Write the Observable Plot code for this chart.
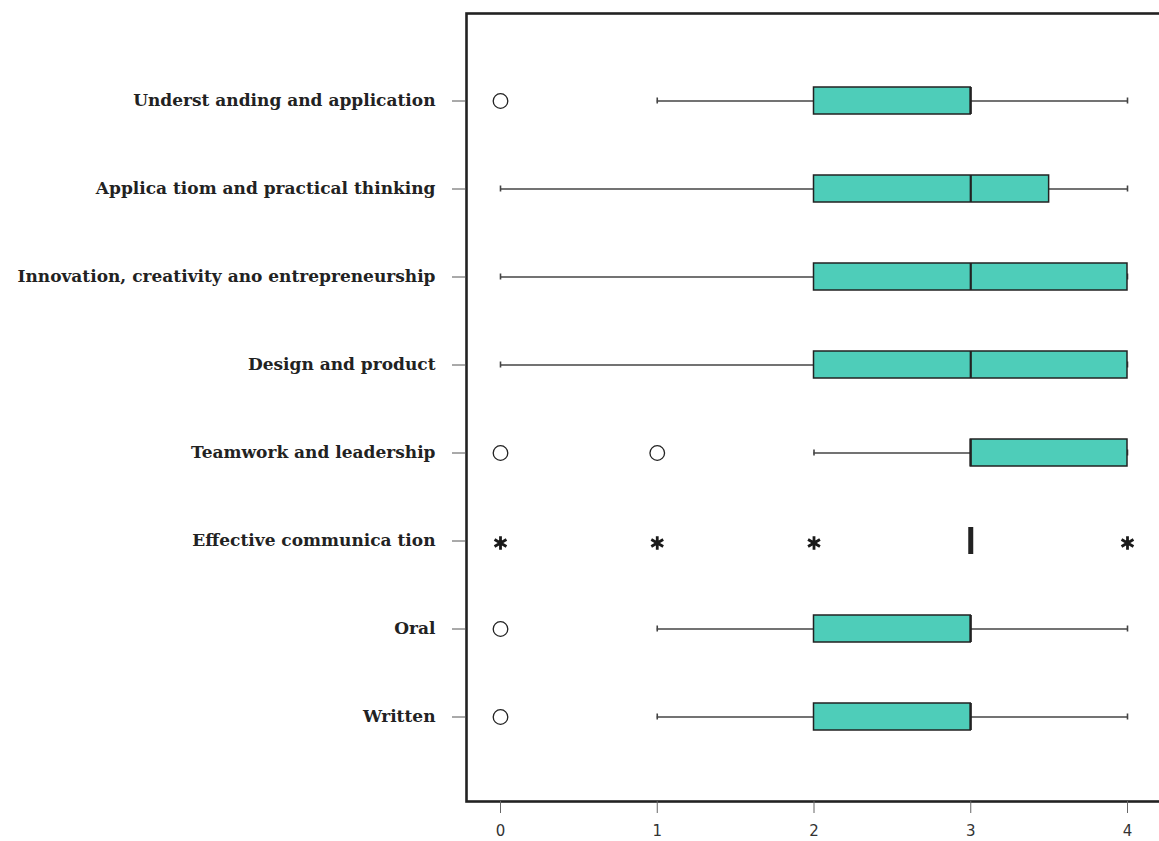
<!DOCTYPE html>
<html>
<head>
<meta charset="utf-8">
<script src="https://cdn.jsdelivr.net/npm/d3@7"></script>
<script src="https://cdn.jsdelivr.net/npm/@observablehq/plot@0.6"></script>
<style>
  html, body { margin: 0; padding: 0; background: #fff; overflow: hidden; }
  #chart { width: 1159px; height: 841px; overflow: hidden; position: relative; }
  #chart svg { display: block; overflow: hidden !important; }
</style>
</head>
<body>
<div id="chart"></div>
<script>
const categories = [
  "Underst anding and application",
  "Applica tiom and practical thinking",
  "Innovation, creativity ano entrepreneurship",
  "Design and product",
  "Teamwork and leadership",
  "Effective communica tion",
  "Oral",
  "Written"
];
const whiskerLow  = [1, 0, 0, 0, 2, 3, 1, 1];
const q1          = [2, 2, 2, 2, 3, 3, 2, 2];
const median      = [3, 3, 3, 3, 3, 3, 3, 3];
const q3          = [3, 3.5, 4, 4, 4, 3, 3, 3];
const whiskerHigh = [4, 4, 4, 4, 4, 3, 4, 4];

const outlierCats   = ["Underst anding and application", "Teamwork and leadership", "Teamwork and leadership", "Oral", "Written"];
const outlierValues = [0, 0, 1, 0, 0];

const extremeCats   = ["Effective communica tion", "Effective communica tion", "Effective communica tion", "Effective communica tion"];
const extremeValues = [0, 1, 2, 4];

const xTicks = [0, 1, 2, 3, 4];

const boxes = categories.map((c, i) => ({
  cat: c, lo: whiskerLow[i], q1: q1[i], med: median[i], q3: q3[i], hi: whiskerHigh[i]
}));
const withBox = boxes.filter(d => d.q3 > d.q1);
const withWhisk = boxes.filter(d => d.hi > d.lo);
const outliers = outlierCats.map((c, i) => ({cat: c, v: outlierValues[i]}));
const extremes = extremeCats.map((c, i) => ({cat: c, v: extremeValues[i]}));

// pixel mapping: 0 -> 500, 4 -> 1127 ; frame's right edge lies off-canvas
const W = 1159, left = 466, rightEdge = 1172;
const unit = (1127 - 500) / 4;
const x0 = -(500 - left) / unit;
const x1 = (rightEdge - 500) / unit;

const chart = Plot.plot({
  width: W,
  height: 841,
  marginLeft: left,
  marginRight: W - rightEdge,
  marginTop: 13,
  marginBottom: 40,
  x: {domain: [x0, x1]},
  y: {type: "band", domain: categories, paddingInner: 0.69, paddingOuter: 0.8, align: 0.51},
  marks: [
    Plot.ruleY(withWhisk, {y: "cat", x1: "lo", x2: "q1", stroke: "#444", strokeWidth: 1.4}),
    Plot.ruleY(withWhisk, {y: "cat", x1: "q3", x2: "hi", stroke: "#444", strokeWidth: 1.4}),
    Plot.tickX(withWhisk, {x: "lo", y: "cat", insetTop: 10.5, insetBottom: 10.5, stroke: "#444", strokeWidth: 1.6}),
    Plot.tickX(withWhisk, {x: "hi", y: "cat", insetTop: 10.5, insetBottom: 10.5, stroke: "#444", strokeWidth: 1.6}),
    Plot.barX(withBox, {y: "cat", x1: "q1", x2: "q3", fill: "#4ECDB9", stroke: "#222", strokeWidth: 1.5}),
    Plot.tickX(boxes, {x: "med", y: "cat", stroke: "#222", strokeWidth: d => d.q1 === d.q3 ? 5 : 2.2}),
    Plot.dot(outliers, {x: "v", y: "cat", r: 7.3, fill: "white", stroke: "#222", strokeWidth: 1.3}),
    Plot.dot(extremes, {x: "v", y: "cat", symbol: "asterisk", r: 6.5, stroke: "#1a1a1a", strokeWidth: 2.8, dy: 2}),
    Plot.frame({stroke: "#222", strokeWidth: 2.6}),
    Plot.axisY({tickSize: 14, tickPadding: 17, label: null, fontSize: 17, fontFamily: "DejaVu Serif", fontWeight: "bold", color: "#222", stroke: "#555"}),
    Plot.axisX({ticks: xTicks, tickSize: 12, tickPadding: 12, label: null, fontSize: 15, fontFamily: "DejaVu Sans", color: "#333", stroke: "#666", tickFormat: d => String(d)})
  ]
});
document.getElementById("chart").appendChild(chart);
</script>
</body>
</html>
